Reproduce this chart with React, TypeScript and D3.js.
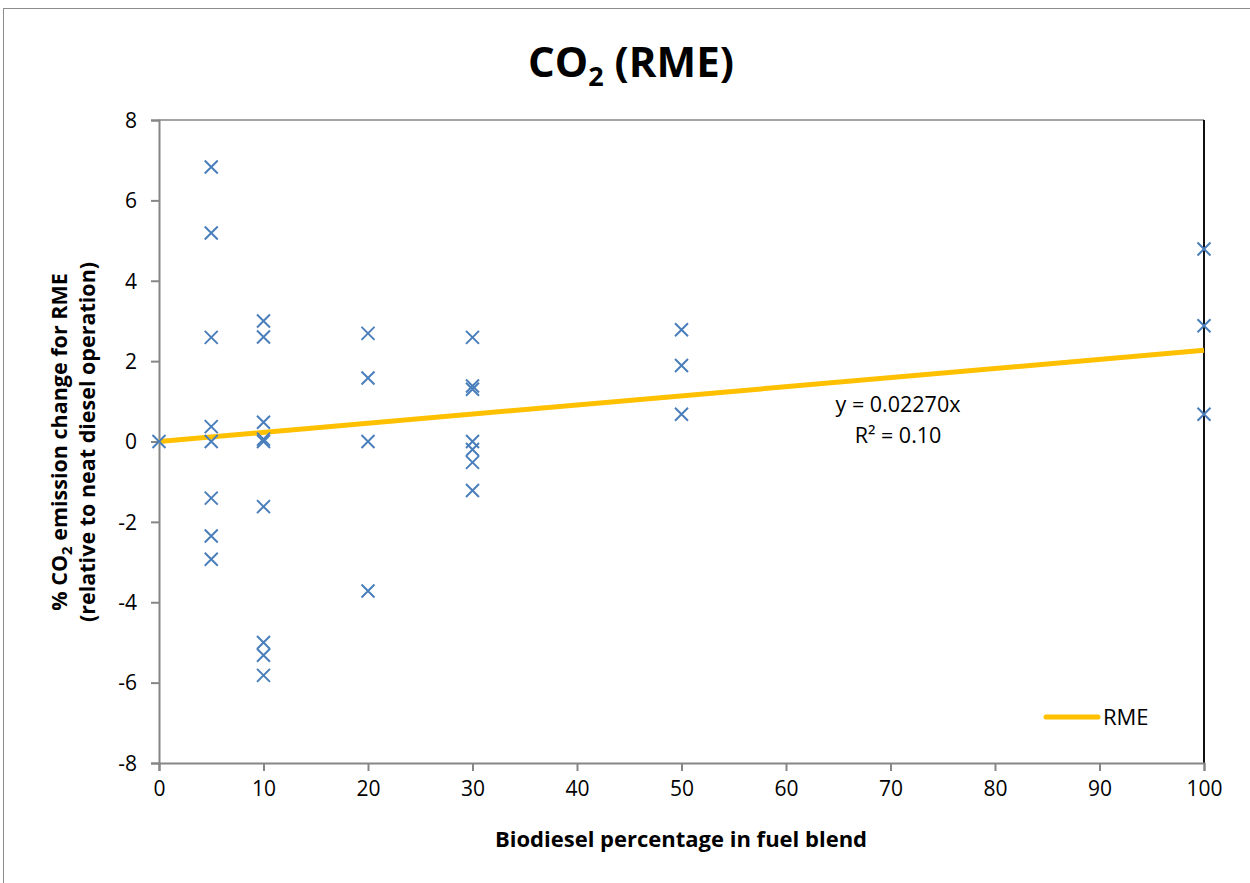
import React, { useEffect, useRef } from 'react';
import * as d3 from 'd3';

// blend percentage, % change in CO2
const blendX = [0, 5, 5, 5, 5, 5, 5, 5, 5, 10, 10, 10, 10, 10, 10, 10, 10, 10, 20, 20, 20, 20, 30, 30, 30, 30, 30, 30, 30, 50, 50, 50, 100, 100, 100];
const co2Change = [0, 6.83, 5.19, 2.59, 0.37, 0, -1.41, -2.35, -2.93, 3.0, 2.6, 0.48, 0.06, 0, -1.62, -5.0, -5.32, -5.82, 2.69, 1.58, 0, -3.72, 2.59, 1.38, 1.3, 0, -0.2, -0.52, -1.22, 2.78, 1.89, 0.68, 4.79, 2.88, 0.68];
const xTicks = [0, 10, 20, 30, 40, 50, 60, 70, 80, 90, 100];
const yTicks = [-8, -6, -4, -2, 0, 2, 4, 6, 8];
const trendSlope = 0.0227;
const trendX = [0, 100];

const FONT = "'Open Sans', Lato, sans-serif";

const App = () => {
  const svgRef = useRef(null);

  useEffect(() => {
    const svg = d3.select(svgRef.current);
    svg.selectAll('*').remove();

    const x = d3.scaleLinear().domain([0, 100]).range([159, 1204]);
    const y = d3.scaleLinear().domain([-8, 8]).range([763, 120]);

    // chart frame
    svg.append('rect')
      .attr('x', 3.5).attr('y', 8.5).attr('width', 1300).attr('height', 1000)
      .attr('fill', 'white').attr('stroke', '#8c8c8c').attr('stroke-width', 1);

    // title
    const title = svg.append('text')
      .attr('x', 631).attr('y', 77)
      .attr('text-anchor', 'middle')
      .attr('font-family', FONT).attr('font-weight', 'bold').attr('font-size', 42)
      .attr('fill', '#000');
    title.append('tspan').text('CO');
    title.append('tspan').attr('font-size', 27).attr('dy', 9).text('2');
    title.append('tspan').attr('dy', -9).text(' (RME)');

    // top border + right line
    svg.append('line')
      .attr('x1', x(0)).attr('x2', x(100)).attr('y1', y(8)).attr('y2', y(8))
      .attr('stroke', '#868686').attr('stroke-width', 1.5);
    svg.append('line')
      .attr('x1', x(100)).attr('x2', x(100)).attr('y1', y(8)).attr('y2', y(-8))
      .attr('stroke', '#111').attr('stroke-width', 2);

    // axes
    const fmt = (d: number) => String(d);
    const yAxis = svg.append('g')
      .attr('transform', `translate(${x(0)},0)`)
      .call(d3.axisLeft(y).tickValues(yTicks).tickSize(8).tickPadding(14).tickFormat(fmt));
    const xAxis = svg.append('g')
      .attr('transform', `translate(0,${y(-8)})`)
      .call(d3.axisBottom(x).tickValues(xTicks).tickSize(8).tickPadding(10).tickFormat(fmt));
    [xAxis, yAxis].forEach(a => {
      a.select('.domain').attr('stroke', '#868686').attr('stroke-width', 2);
      a.selectAll('.tick line').attr('stroke', '#868686').attr('stroke-width', 2);
      a.selectAll('.tick text')
        .attr('font-family', FONT).attr('font-size', 21).attr('fill', '#000');
    });
    yAxis.selectAll('.tick text').attr('dy', '0.35em');

    // trend line
    const line = d3.line().x(d => x(d)).y(d => y(d * trendSlope));
    svg.append('path')
      .datum(trendX)
      .attr('d', line)
      .attr('fill', 'none')
      .attr('stroke', '#ffc000')
      .attr('stroke-width', 5);

    // X markers
    const s = 6.5;
    const pts = svg.append('g')
      .attr('stroke', '#4a7ebb').attr('stroke-width', 2).attr('fill', 'none');
    blendX.forEach((bx, i) => {
      const px = x(bx), py = y(co2Change[i]);
      pts.append('path')
        .attr('d', `M${px - s},${py - s}L${px + s},${py + s}M${px - s},${py + s}L${px + s},${py - s}`);
    });

    // equation
    svg.append('text')
      .attr('x', 898).attr('y', 412).attr('text-anchor', 'middle')
      .attr('font-family', FONT).attr('font-size', 21.5).attr('fill', '#000')
      .text('y = 0.02270x');
    svg.append('text')
      .attr('x', 898).attr('y', 443).attr('text-anchor', 'middle')
      .attr('font-family', FONT).attr('font-size', 21.5).attr('fill', '#000')
      .text('R² = 0.10');

    // legend
    svg.append('line')
      .attr('x1', 1046).attr('x2', 1098).attr('y1', 717).attr('y2', 717)
      .attr('stroke', '#ffc000').attr('stroke-width', 5).attr('stroke-linecap', 'round');
    svg.append('text')
      .attr('x', 1103).attr('y', 725)
      .attr('font-family', FONT).attr('font-size', 22).attr('fill', '#000')
      .text('RME');

    // x label
    svg.append('text')
      .attr('x', 681).attr('y', 847).attr('text-anchor', 'middle')
      .attr('font-family', FONT).attr('font-weight', 'bold').attr('font-size', 22).attr('fill', '#000')
      .text('Biodiesel percentage in fuel blend');

    // y label (two lines, rotated)
    const yl = svg.append('g').attr('transform', 'translate(0,442) rotate(-90)');
    const l1 = yl.append('text')
      .attr('x', 0).attr('y', 67).attr('text-anchor', 'middle')
      .attr('font-family', FONT).attr('font-weight', 'bold').attr('font-size', 21.5).attr('fill', '#000');
    l1.append('tspan').text('% CO');
    l1.append('tspan').attr('font-size', 15).attr('dy', 5).text('2');
    l1.append('tspan').attr('dy', -5).text(' emission change for RME');
    yl.append('text')
      .attr('x', 0).attr('y', 95).attr('text-anchor', 'middle')
      .attr('font-family', FONT).attr('font-weight', 'bold').attr('font-size', 21.5).attr('fill', '#000')
      .text('(relative to neat diesel operation)');
  }, []);

  return (
    <svg
      ref={svgRef}
      width={1250}
      height={883}
      style={{ position: 'absolute', left: 0, top: 0, background: 'white' }}
    />
  );
};

export default App;
